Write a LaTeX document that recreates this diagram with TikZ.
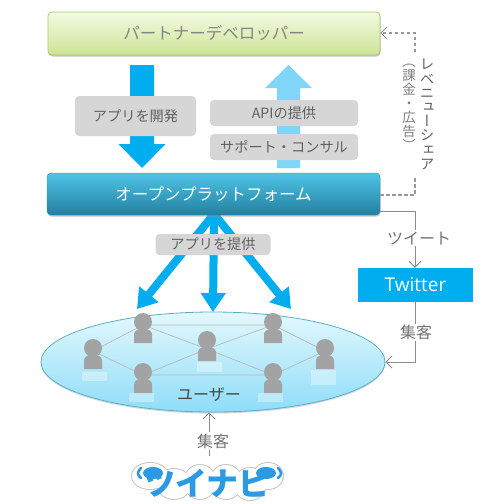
\documentclass[tikz,border=0pt]{standalone}
\usepackage{fontspec}
\setmainfont{Noto Sans CJK JP}
\newfontfamily\cjkv[RawFeature={+vert}]{Noto Sans CJK JP}
\newfontfamily\latinsans{Open Sans}
\usetikzlibrary{arrows.meta,shadows,shapes.geometric,calc}
\AtBeginDocument{\lineskiplimit=-100pt\relax}
\definecolor{arrowblue}{HTML}{00AEEF}
\definecolor{paleblue}{HTML}{7FD6F8}
\definecolor{labelgray}{HTML}{D6D6D6}
\definecolor{persongray}{HTML}{A3A3A3}
\definecolor{linkgray}{HTML}{8C8C8C}
\definecolor{logoblue}{HTML}{2A9BE2}
\definecolor{greentop}{HTML}{F3FAE2}
\definecolor{greenmid}{HTML}{E6F3C4}
\definecolor{greenbot}{HTML}{CDE496}
\definecolor{greenedge}{HTML}{AECB6E}
\definecolor{bluetop}{HTML}{4FC4E8}
\definecolor{bluemid}{HTML}{33A6CC}
\definecolor{bluebot}{HTML}{22809F}
\definecolor{blueedge}{HTML}{2A88A8}
\definecolor{elltop}{HTML}{E4F8FE}
\definecolor{ellbot}{HTML}{8FDDF8}
\definecolor{elledge}{HTML}{5AB0C8}
\tikzset{
  softshadow/.style={drop shadow={shadow xshift=0.5pt,shadow yshift=-1.5pt,fill=black!45,opacity=.5}},
  greenbox/.style={draw=greenedge,line width=.8pt,rounded corners=4pt,top color=greentop,middle color=greenmid,bottom color=greenbot,softshadow,text=black!48,font=\fontsize{16.5}{18}\selectfont,inner sep=0pt},
  bluebox/.style={rounded corners=4pt,draw=blueedge,line width=.4pt,top color=bluetop,middle color=bluemid,bottom color=bluebot,softshadow,text=white,font=\fontsize{16.5}{18}\selectfont,inner sep=0pt},
  graylabel/.style={fill=labelgray,rounded corners=4pt,text=black!62,font=\fontsize{14.2}{16}\selectfont,inner sep=0pt},
  linklabel/.style={fill=white,text=black!55,font=\fontsize{16}{18}\selectfont,inner sep=1.5pt},
  solidlink/.style={draw=linkgray,line width=.9pt},
  dashlink/.style={draw=black!40,line width=1.1pt,dash pattern=on 3.5pt off 2.5pt},
  openhead/.style={-{Straight Barb[length=6pt,width=12pt,line width=.9pt]}},
  fatarrow/.style={draw=arrowblue,line width=8pt,-{Triangle[length=19pt,width=24pt]}},
  net/.style={draw=black!28,line width=.7pt},
  glow/.style={fill=white,fill opacity=.35,draw=none},
  vertlabel/.style={align=center,text=black!62,font=\cjkv\fontsize{14.5}{14.2}\selectfont,inner sep=0pt},
  vertnote/.style={vertlabel,text=black!50,font=\cjkv\fontsize{13.5}{14}\selectfont},
}
\newcommand{\personfig}[1]{%
  \fill[persongray] ($(#1)+(-9,18)$) -- ($(#1)+(-9,9)$) .. controls ($(#1)+(-9,2)$) and ($(#1)+(9,2)$) .. ($(#1)+(9,9)$) -- ($(#1)+(9,18)$) -- cycle;
  \fill[persongray] ($(#1)+(0,-3)$) circle (9);
}
\begin{document}
\begin{tikzpicture}[x=1pt,y=-1pt]
\useasboundingbox (0,0) rectangle (500,504);
\fill[white] (0,0) rectangle (500,504);

% big arrows
\coordinate (apex) at (214,214);
\coordinate (usersL) at (137,309);
\coordinate (usersM) at (213,312);
\coordinate (usersR) at (291,309);
\draw[fatarrow] (apex) -- (usersL);
\draw[fatarrow] (apex) -- (usersM);
\draw[fatarrow] (apex) -- (usersR);

% boxes
\node[greenbox,minimum width=332pt,minimum height=43pt] (partner) at (214,33.5) {パートナーデベロッパー};
\node[bluebox,minimum width=333pt,minimum height=42pt] (platform) at (213.5,194) {オープンプラットフォーム};

% develop / API arrows
\fill[arrowblue] (130,65) -- (154,65) -- (154,144) -- (165.5,144) -- (142,168) -- (118.5,144) -- (130,144) -- cycle;
\fill[paleblue] (277,168) -- (300,168) -- (300,88) -- (312,88) -- (288.5,65) -- (265,88) -- (277,88) -- cycle;
\node[graylabel,minimum width=121pt,minimum height=40pt] (dev) at (135.5,116) {アプリを開発};
\node[graylabel,minimum width=148pt,minimum height=26pt] (api) at (284,113) {APIの提供};
\node[graylabel,minimum width=148pt,minimum height=26pt] (support) at (284,147) {サポート・コンサル};

\node[graylabel,minimum width=115pt,minimum height=21pt] (provide) at (213,244.5) {アプリを提供};

% users ellipse
\node[ellipse,draw=elledge,line width=.8pt,minimum width=344pt,minimum height=100pt,top color=elltop,bottom color=ellbot,drop shadow={shadow xshift=0pt,shadow yshift=-1.5pt,fill=black!40,opacity=.4},inner sep=0pt] (users) at (213,362) {};
\node[text=black!72,font=\fontsize{16}{18}\selectfont,inner sep=0pt] (userlabel) at (209,395) {ユーザー};

% reflections
\fill[glow] (82,372) rectangle (107,381);
\fill[glow] (129,393) rectangle (154,402);
\fill[glow] (197,362) rectangle (222,372);
\fill[glow] (258,393) rectangle (283,402);
\fill[glow] (311,370) rectangle (336,385);

% people
\coordinate (p1) at (93,351);
\coordinate (p2) at (143,325);
\coordinate (p3) at (143,375);
\coordinate (p4) at (207,343);
\coordinate (p5) at (273,325);
\coordinate (p6) at (273,375);
\coordinate (p7) at (325,351);
\draw[net] (p1) -- (p2) -- (p5) -- (p7) -- (p6) -- (p3) -- (p1);
\draw[net] (p2) -- ($(p4)+(0,6)$) -- (p6);
\draw[net] (p3) -- ($(p4)+(0,6)$) -- (p5);
\personfig{p1}\personfig{p2}\personfig{p3}\personfig{p4}\personfig{p5}\personfig{p6}\personfig{p7}

% Twitter
\node[fill=arrowblue,text=white,minimum width=115pt,minimum height=34pt,inner sep=0pt,font=\latinsans\fontsize{19}{21}\selectfont] (twitter) at (415.5,285) {Twitter};

% revenue connector
\coordinate (revA) at (415,195);
\coordinate (revB) at (415,33);
\draw[dashlink] (platform.east |- revA) -- (revA) -- (415,176);
\draw[dashlink,openhead] (415,52) -- (revB) -- (partner.east |- revB);
\node[vertlabel] (revenue) at (427,114.5) {レ\\ベ\\ニ\\ュ\\ー\\シ\\ェ\\ア};
\node[vertnote] (revnote) at (409,107) {（\\課\\金\\・\\広\\告\\）};

% tweet connector
\coordinate (twA) at (415,211);
\draw[solidlink,openhead] (platform.east |- twA) -- (twA) -- (twitter.north -| twA);
\node[linklabel] (tweet) at (419,238) {ツイート};

% twitter to users
\coordinate (twB) at (415,362);
\draw[solidlink,openhead] (twitter.south -| twB) -- (twB) -- (users.east);
\node[linklabel] (visit1) at (416,332.5) {集客};

% logo
\foreach \lx/\ly/\rx/\ry in {150/476/18/13, 174/484/17/15, 200/482/16/17, 226/482/16/17, 250/484/16/16, 268/476/15/13}{
  \fill[black!22] (\lx,\ly) ellipse [x radius=\rx+1, y radius=\ry+1];
}
\foreach \lx/\ly/\rx/\ry in {150/476/18/13, 174/484/17/15, 200/482/16/17, 226/482/16/17, 250/484/16/16, 268/476/15/13}{
  \fill[white] (\lx,\ly) ellipse [x radius=\rx, y radius=\ry];
}
\node[text=logoblue,font=\bfseries\fontsize{32}{34}\selectfont,inner sep=0pt] (logo) at (207,483) {ツイナビ};
\fill[logoblue] (153,473) ellipse [x radius=10, y radius=6];
\fill[logoblue] (266,473) ellipse [x radius=10, y radius=6];
\draw[logoblue,line width=2.5pt,line cap=round] (141,468) .. controls (137,472) and (137,475) .. (141,478);
\draw[logoblue,line width=2.5pt,line cap=round] (278,468) .. controls (282,472) and (282,475) .. (278,478);

% logo to users
\coordinate (logotop) at (209,456);
\draw[solidlink,openhead] (logotop) -- (users.south -| logotop);
\node[linklabel] (visit2) at (213,441) {集客};
\end{tikzpicture}
\end{document}
